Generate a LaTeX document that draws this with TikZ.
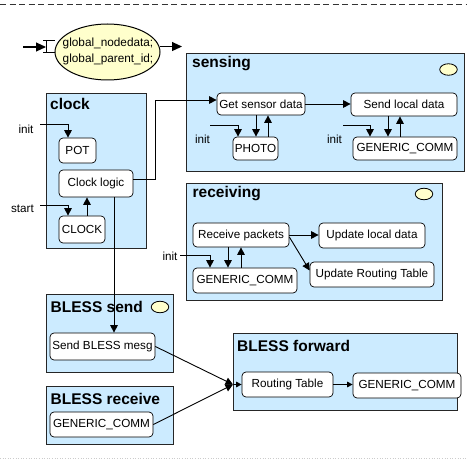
\documentclass[tikz,border=0pt]{standalone}
\usepackage{fontspec}
\setmainfont{Liberation Sans}
\usetikzlibrary{arrows.meta,shapes.geometric,calc}
\definecolor{boxblue}{RGB}{204,235,255}
\definecolor{paleyellow}{RGB}{255,255,204}
\begin{document}
\begin{tikzpicture}[x=1pt,y=-1pt,
  container/.style={draw=black!85, line width=0.9pt, fill=boxblue, anchor=north west, inner sep=0pt},
  ttl/.style={anchor=base west, inner sep=0pt, font=\fontsize{15.5}{18}\selectfont\bfseries},
  mod/.style={draw=black, line width=0.7pt, fill=white, rounded corners=4pt, inner sep=0pt, font=\fontsize{11.7}{14}\selectfont},
  lbl/.style={inner sep=0pt, font=\fontsize{11.7}{14}\selectfont},
  marker/.style={draw=black, line width=0.8pt, fill=paleyellow, ellipse, inner sep=0pt, minimum width=17.5pt, minimum height=11.5pt},
  arr/.style={draw=black, line width=0.9pt, -{Triangle[length=7.5pt,width=7.5pt]}},
  smallarr/.style={draw=black, line width=0.9pt, -{Triangle[length=5.5pt,width=5.5pt]}},
  bigarr/.style={draw=black, line width=1.1pt, -{Triangle[length=10pt,width=9pt]}},
  plain/.style={draw=black, line width=0.9pt}
]
\useasboundingbox (0,0) rectangle (467,460);
% page borders
\draw[black!80, line width=0.6pt, dash pattern=on 6pt off 3.5pt] (0,4) -- (467,4);
\draw[black!20, line width=0.6pt, dotted] (0,458) -- (467,458);

% global data
\node[ellipse, draw=black, line width=1pt, fill=paleyellow, inner sep=0pt,
      minimum width=105pt, minimum height=56pt] (glob) at (107.5,52) {};
\node[inner sep=0pt, align=center, font=\fontsize{11.8}{16}\selectfont] (globtxt) at (108,51.5) {global\_nodedata;\\global\_parent\_id;};
\coordinate (gin) at (23,47);
\coordinate (ibeam) at (46,47);
\coordinate (gout) at (182,47);
\draw[line width=1pt] (43,41) -- (55,41) (46,41) -- (46,53) (43,53) -- (55,53);
\draw[bigarr] (gin) -- (ibeam);
\draw[bigarr] (glob.6) -- (glob.6 -| gout);

% containers
\node[container, minimum width=278pt, minimum height=118pt] (sensing) at (186,53) {};
\node[container, minimum width=100pt, minimum height=155pt] (clock) at (46,93) {};
\node[container, minimum width=256pt, minimum height=117pt] (receiving) at (186,183) {};
\node[container, minimum width=127pt, minimum height=78pt] (bsend) at (46,294) {};
\node[container, minimum width=127pt, minimum height=58pt] (brecv) at (46,386) {};
\node[container, minimum width=224pt, minimum height=77pt] (bfwd) at (233,333) {};

% titles
\node[ttl] (sensingT) at (192,68) {sensing};
\node[ttl] (clockT) at (50,109.5) {clock};
\node[ttl] (receivingT) at (192.5,197.5) {receiving};
\node[ttl] (bsendT) at (50.5,312.5) {BLESS send};
\node[ttl] (brecvT) at (50.5,404) {BLESS receive};
\node[ttl] (bfwdT) at (237,352) {BLESS forward};

% markers
\node[marker] (mk1) at (448.5,69.5) {};
\node[marker] (mk2) at (424,194) {};
\node[marker] (mk3) at (160,307) {};

% sensing modules
\node[mod, minimum width=88pt, minimum height=22pt] (gsd) at (261,104) {Get sensor data};
\node[mod, minimum width=106pt, minimum height=23pt] (sld) at (404,104.5) {Send local data};
\node[mod, minimum width=45pt, minimum height=23pt] (photo) at (255.5,148.5) {PHOTO};
\node[mod, minimum width=104pt, minimum height=23pt] (gc1) at (405,148.5) {GENERIC\_COMM};

% clock modules
\node[mod, minimum width=37pt, minimum height=25pt] (pot) at (77.5,150.5) {POT};
\node[mod, minimum width=74pt, minimum height=27pt] (cl) at (96,183.5) {Clock logic};
\node[mod, minimum width=46pt, minimum height=27pt] (clk) at (82,229.5) {CLOCK};

% receiving modules
\node[mod, minimum width=96pt, minimum height=24pt] (rp) at (241,235) {Receive packets};
\node[mod, minimum width=106pt, minimum height=25pt] (uld) at (372,235.5) {Update local data};
\node[mod, minimum width=124pt, minimum height=25pt] (urt) at (372,274.5) {Update Routing Table};
\node[mod, minimum width=104pt, minimum height=25pt] (gc2) at (245,280.5) {GENERIC\_COMM};

% BLESS modules
\node[mod, minimum width=105pt, minimum height=27pt] (sbm) at (102.5,346.5) {Send BLESS mesg};
\node[mod, minimum width=103pt, minimum height=25pt] (gc3) at (101.5,424.5) {GENERIC\_COMM};
\node[mod, minimum width=91pt, minimum height=25pt] (rt) at (287.5,384.5) {Routing Table};
\node[mod, minimum width=108pt, minimum height=25pt] (gc4) at (407,385.5) {GENERIC\_COMM};

% labels
\node[lbl] (initA) at (26,129) {init};
\node[lbl] (startA) at (22.5,209) {start};
\node[lbl] (initB) at (202.5,139) {init};
\node[lbl] (initC) at (334.5,139) {init};
\node[lbl] (initD) at (170,256.5) {init};
\coordinate (iA) at (40,124);
\coordinate (sA) at (40,205);
\coordinate (iB) at (210,125);
\coordinate (iC) at (343,125);
\coordinate (iD) at (180,255);
\coordinate (fin) at (bfwd.west |- rt.west);

% clock connectors
\draw[arr] (iA) -| ([xshift=-9.5pt]pot.north);
\draw[arr] (sA) -| ([xshift=-14pt]clk.north);
\draw[arr] ([xshift=5pt]clk.north) -- ([xshift=5pt]clk.north |- cl.south);
\draw[arr] ([yshift=4pt]cl.east) -- ++(22,0) |- ([yshift=4pt]gsd.west);
\draw[arr] ([xshift=18pt]cl.south) -- ([xshift=18pt]cl.south |- sbm.north);

% sensing connectors
\draw[arr] (gsd.east) -- (gsd.east -| sld.west);
\draw[arr] (iB) -| ([xshift=-17.5pt]photo.north);
\draw[arr] ([xshift=-5pt]gsd.south) -- ([xshift=-5pt]gsd.south |- photo.north);
\draw[arr] ([xshift=12.5pt]photo.north) -- ([xshift=12.5pt]photo.north |- gsd.south);
\draw[arr] (iC) -| ([xshift=-35pt]gc1.north);
\draw[arr] ([xshift=-16pt]sld.south) -- ([xshift=-16pt]sld.south |- gc1.north);
\draw[arr] ([xshift=-5pt]gc1.north) -- ([xshift=-5pt]gc1.north |- sld.south);

% receiving connectors
\draw[arr] (rp.east) -- (rp.east -| uld.west);
\draw[arr] ([yshift=-2pt]rp.east) -- ([yshift=4pt]urt.west);
\draw[arr] (iD) -| ([xshift=-35pt]gc2.north);
\draw[arr] ([xshift=-13pt]rp.south) -- ([xshift=-13pt]rp.south |- gc2.north);
\draw[arr] ([xshift=-4pt]gc2.north) -- ([xshift=-4pt]gc2.north |- rp.south);

% BLESS connectors
\draw[arr] (sbm.east) -- (fin);
\draw[arr] (gc3.east) -- (fin);
\draw[smallarr] (fin) -- (rt.west);
\draw[smallarr] (rt.east) -- (rt.east -| gc4.west);
\end{tikzpicture}
\end{document}
